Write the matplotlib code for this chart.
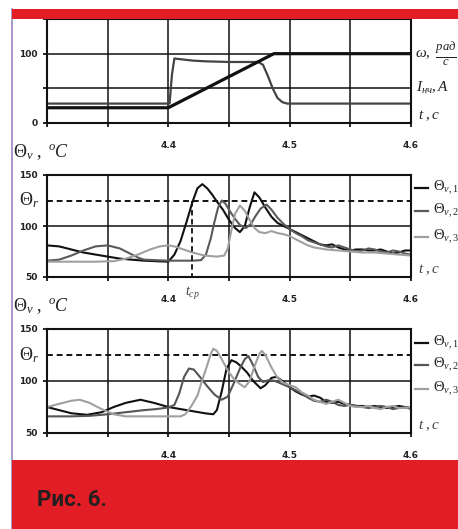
import matplotlib.pyplot as plt
import matplotlib.transforms as mtransforms
from matplotlib.patches import Rectangle
from matplotlib.lines import Line2D

plt.rcParams['mathtext.fontset'] = 'custom'
plt.rcParams['mathtext.rm'] = 'Liberation Serif'
plt.rcParams['mathtext.it'] = 'Liberation Serif:italic'
plt.rcParams['mathtext.bf'] = 'Liberation Serif:bold'

# --- оси ---
x_grid = [4.30, 4.35, 4.40, 4.45, 4.50, 4.55, 4.60]
x_labels = ['', '', '4.4', '', '4.5', '', '4.6']
y_grid = [0, 50, 100, 150]
y_labels_top = ['0', '', '100', '']
y_grid_temp = [50, 100, 150]
y_labels_temp = ['50', '100', '150']
theta_r = 125
t_cp = 4.4196

# --- панель 1: скорость и ток ---
t_w = [4.300, 4.400, 4.487, 4.600]
omega = [22, 22, 100, 100]
t_i = [4.300, 4.401, 4.403, 4.405, 4.410, 4.420, 4.430, 4.450, 4.474,
       4.478, 4.482, 4.486, 4.490, 4.494, 4.498, 4.600]
i_nch = [28, 28, 70, 93, 92, 90, 89, 88, 88, 84, 68, 50, 36, 30, 28, 28]

# --- панель 2 ---
t_a1 = [4.300, 4.310, 4.320, 4.330, 4.340, 4.350, 4.360, 4.370, 4.380, 4.390,
        4.400, 4.405, 4.410, 4.415, 4.420, 4.424, 4.428, 4.432, 4.436, 4.440,
        4.445, 4.450, 4.455, 4.459, 4.463, 4.467, 4.471, 4.475, 4.480, 4.485,
        4.490, 4.495, 4.500, 4.505, 4.510, 4.515, 4.520, 4.525, 4.530, 4.535,
        4.540, 4.545, 4.550, 4.555, 4.560, 4.565, 4.570, 4.575, 4.580, 4.585,
        4.590, 4.595, 4.600]
a1 = [81, 80, 77, 74, 72, 70, 68, 67, 66, 65.5,
      65, 72, 85, 104, 124, 137, 141, 137, 131, 124,
      116, 106, 98, 94, 100, 118, 133, 128, 118, 109,
      103, 100, 97, 94, 91, 88, 85, 82, 81, 82,
      79, 77, 76, 77, 77, 76, 76, 77, 75, 73,
      74, 76, 76]
t_a2 = [4.300, 4.310, 4.320, 4.330, 4.340, 4.350, 4.360, 4.370, 4.375, 4.380,
        4.390, 4.400, 4.410, 4.420, 4.427, 4.431, 4.435, 4.438, 4.441, 4.444,
        4.447, 4.451, 4.455, 4.459, 4.464, 4.468, 4.472, 4.476, 4.481, 4.485,
        4.490, 4.495, 4.500, 4.505, 4.510, 4.515, 4.520, 4.525, 4.530, 4.535,
        4.540, 4.545, 4.550, 4.555, 4.560, 4.565, 4.570, 4.575, 4.580, 4.585,
        4.590, 4.595, 4.600]
a2 = [66, 67, 71, 76, 80, 81, 78, 72, 69, 67,
      66.5, 66, 66, 66, 66.5, 72, 88, 104, 118, 125,
      122, 114, 107, 101, 98, 102, 110, 117, 121, 116,
      108, 102, 97, 93, 90, 86, 84, 82, 80, 79,
      81, 79, 77, 75, 76, 78, 77, 75, 74, 76,
      75, 73, 72]
t_a3 = [4.300, 4.320, 4.340, 4.355, 4.365, 4.375, 4.385, 4.393, 4.400, 4.405,
        4.410, 4.420, 4.430, 4.440, 4.446, 4.449, 4.452, 4.455, 4.459, 4.463,
        4.467, 4.471, 4.475, 4.480, 4.485, 4.490, 4.495, 4.500, 4.505, 4.510,
        4.515, 4.520, 4.525, 4.530, 4.540, 4.550, 4.560, 4.570, 4.580, 4.590,
        4.600]
a3 = [65, 65, 65, 65.5, 68, 72, 77, 80, 81, 80,
      78, 74, 71, 70, 71, 78, 96, 112, 120, 115,
      106, 98, 94, 93, 95, 93, 92, 90, 87, 84,
      81, 79, 78, 77, 76, 75, 74, 74, 73, 72,
      71]

# --- панель 3 ---
t_b1 = [4.300, 4.310, 4.320, 4.333, 4.345, 4.355, 4.365, 4.377, 4.388, 4.400,
        4.410, 4.420, 4.430, 4.437, 4.440, 4.444, 4.448, 4.452, 4.456, 4.460,
        4.465, 4.470, 4.476, 4.480, 4.485, 4.489, 4.494, 4.500, 4.505, 4.510,
        4.515, 4.520, 4.525, 4.530, 4.535, 4.540, 4.545, 4.550, 4.555, 4.560,
        4.565, 4.570, 4.575, 4.580, 4.585, 4.590, 4.595, 4.600]
b1 = [75, 72, 69, 67.5, 70, 75, 79, 82, 79, 75,
      73, 71, 69, 68, 72, 90, 112, 120, 118, 114,
      108, 100, 93, 96, 103, 104, 100, 94, 90, 87,
      85, 86, 84, 80, 79, 80, 78, 77, 76, 76,
      75, 76, 75, 74, 75, 76, 75, 74]
t_b2 = [4.300, 4.310, 4.320, 4.335, 4.350, 4.365, 4.380, 4.390, 4.400, 4.405,
        4.409, 4.413, 4.417, 4.421, 4.426, 4.432, 4.438, 4.444, 4.449, 4.454,
        4.459, 4.463, 4.466, 4.470, 4.474, 4.478, 4.483, 4.488, 4.494, 4.500,
        4.505, 4.510, 4.515, 4.520, 4.525, 4.530, 4.535, 4.540, 4.545, 4.550,
        4.555, 4.560, 4.565, 4.570, 4.575, 4.580, 4.585, 4.590, 4.595, 4.600]
b2 = [66, 66, 66, 66.5, 68, 70, 72, 73, 74.5, 77,
      88, 104, 112, 111, 104, 95, 87, 82, 85, 98,
      112, 121, 124, 115, 104, 99, 101, 100, 97, 94,
      91, 88, 84, 81, 80, 82, 80, 77, 76, 77,
      76, 75, 74, 75, 76, 75, 73, 74, 75, 73]
t_b3 = [4.300, 4.310, 4.320, 4.327, 4.335, 4.345, 4.355, 4.365, 4.380, 4.395,
        4.410, 4.414, 4.419, 4.424, 4.428, 4.432, 4.435, 4.437, 4.440, 4.444,
        4.449, 4.454, 4.459, 4.463, 4.467, 4.471, 4.475, 4.477, 4.480, 4.485,
        4.490, 4.495, 4.500, 4.505, 4.510, 4.515, 4.520, 4.525, 4.530, 4.535,
        4.540, 4.545, 4.550, 4.555, 4.560, 4.565, 4.570, 4.575, 4.580, 4.585,
        4.590, 4.595, 4.600]
b3 = [75, 78, 81, 82, 79, 73, 68, 66, 66, 66,
      66, 68, 76, 86, 101, 115, 126, 131, 129, 121,
      110, 102, 97, 94, 100, 114, 126, 129, 125, 113,
      103, 98, 96, 94, 89, 86, 82, 80, 78, 80,
      82, 79, 76, 75, 75, 76, 74, 73, 75, 76,
      74, 74, 75]

W, H = 458, 529
fig = plt.figure(figsize=(W / 100, H / 100), dpi=100)

tick_font = dict(fontsize=6.5, fontweight='bold', color='#222222')


def make_axes(top_px, bottom_px, yticks, ylabels, ymax):
    ax = fig.add_axes([47 / W, 1 - bottom_px / H, 364 / W, (bottom_px - top_px) / H])
    ax.set_xlim(4.3, 4.6)
    ax.set_ylim(yticks[0], ymax)
    ax.set_xticks(x_grid)
    ax.set_xticklabels(x_labels, **tick_font)
    ax.set_yticks(yticks)
    ax.set_yticklabels(ylabels, **tick_font)
    ax.tick_params(axis='x', length=3, width=1.2, pad=10)
    ax.tick_params(axis='y', length=3, width=1.2, pad=4)
    ax.grid(True, color='#111111', lw=1.1)
    for s in ax.spines.values():
        s.set_linewidth(1.5)
        s.set_color('#111111')
    return ax


# Панель 1
ax1 = make_axes(19, 123, y_grid, y_labels_top, 150)
ax1.plot(t_i, i_nch, color='#444444', lw=1.6)
ax1.plot(t_w, omega, color='#111111', lw=2.3)
tr1 = mtransforms.blended_transform_factory(ax1.transAxes, ax1.transData)
ax1.text(1.01, 100, r'$\omega,$', transform=tr1,
         fontsize=11, va='center', ha='left', color='#222222')
ax1.text(1.065, 100, r'$\frac{рад}{c}$', transform=tr1,
         fontsize=13, va='center', ha='left', color='#222222')
ax1.text(1.015, 50, r'$I_{нч}, A$', transform=tr1,
         fontsize=11, va='center', ha='left', color='#222222')
ax1.text(1.02, 0, r'$t\ ,c$', transform=tr1,
         fontsize=11, va='bottom', ha='left', color='#222222')


def temp_panel(top_px, bottom_px, series, legend_y):
    ax = make_axes(top_px, bottom_px, y_grid_temp, y_labels_temp, 150)
    ax.axhline(theta_r, color='#111111', lw=1.4, ls=(0, (3, 2)))
    for t, v, c in series:
        ax.plot(t, v, color=c, lw=1.5)
    tr = mtransforms.blended_transform_factory(ax.transAxes, ax.transData)
    ax.text(-0.05, theta_r, r'$\Theta_r$', transform=tr, fontsize=13,
            va='center', ha='center', color='#222222')
    ax.text(1.02, 50, r'$t\ ,c$', transform=tr, fontsize=11,
            va='bottom', ha='left', color='#444444')
    for k, ((t, v, c), ly) in enumerate(zip(series, legend_y)):
        ax.add_line(Line2D([1.011, 1.047], [ly, ly], transform=ax.transAxes,
                           color=c, lw=1.6, clip_on=False))
        ax.text(1.06, ly, r'$\Theta_{v,%d}$' % (k + 1), transform=ax.transAxes,
                fontsize=10.5, va='center', ha='left', color='#222222')
    return ax


ax2 = temp_panel(175, 277, [(t_a1, a1, '#111111'), (t_a2, a2, '#5a5a5a'), (t_a3, a3, '#a0a0a0')],
                 [0.873, 0.647, 0.392])
ax2.plot([t_cp, t_cp], [theta_r, 50], color='#111111', lw=1.3, ls=(0, (3, 2)))
ax2.text(t_cp, 43, r'$t_{ср}$', fontsize=10, ha='center', va='top', color='#444444')

ax3 = temp_panel(329, 433, [(t_b1, b1, '#111111'), (t_b2, b2, '#555555'), (t_b3, b3, '#a0a0a0')],
                 [0.865, 0.654, 0.423])

fig.text(13 / W, 1 - 152 / H, r'$\Theta_v\ ,\ ^oC$', fontsize=13, va='center', ha='left', color='#222222')
fig.text(13 / W, 1 - 306 / H, r'$\Theta_v\ ,\ ^oC$', fontsize=13, va='center', ha='left', color='#222222')

# рамка страницы
red = '#e31d25'
fig.patches.append(Rectangle((12 / W, 1 - 18.5 / H), 1, 9.5 / H, transform=fig.transFigure,
                             facecolor=red, edgecolor='none', zorder=5))
fig.patches.append(Rectangle((12 / W, 0), 1, 69 / H, transform=fig.transFigure,
                             facecolor=red, edgecolor='none', zorder=5))
fig.lines.append(Line2D([11.5 / W, 11.5 / W], [0, 1 - 9 / H], transform=fig.transFigure,
                        color='#9a86c0', lw=1.2))
fig.text(37 / W, 1 - 500 / H, 'Рис. 6.', fontsize=16, fontweight='bold', family='Roboto',
         color='#231f20', va='center', ha='left', zorder=6)

fig.savefig('out.png', dpi=100)
